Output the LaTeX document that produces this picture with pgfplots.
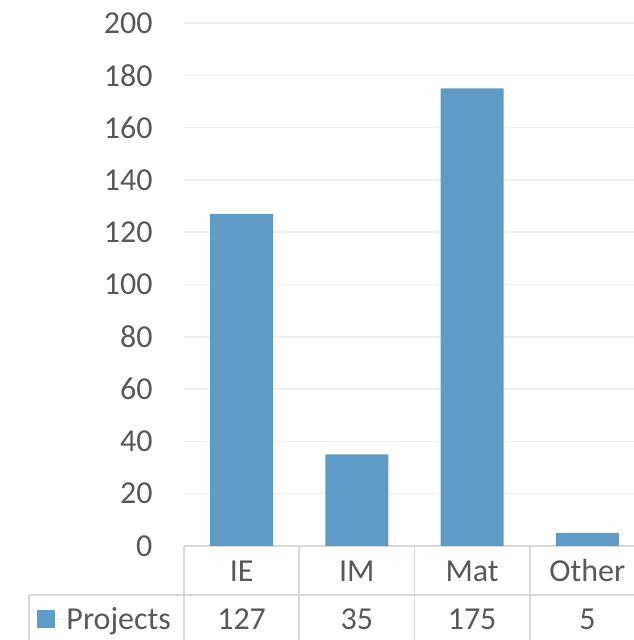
\documentclass[border=0pt]{standalone}
\usepackage{pgfplots}
\pgfplotsset{compat=1.18}
\usepackage{fontspec}
\setmainfont{Carlito}
\definecolor{barblue}{RGB}{96,155,197}
\definecolor{txtgray}{RGB}{89,89,89}
\definecolor{linegray}{RGB}{217,217,217}
\definecolor{gridgray}{RGB}{240,240,240}
\begin{document}
\begin{tikzpicture}[x=1pt,y=1pt]
\begin{axis}[
  at={(184pt,94pt)}, anchor=south west,
  scale only axis, width=461pt, height=523pt,
  xmin=-0.5, xmax=3.5, ymin=0, ymax=200,
  ytick={0,20,...,200},
  xtick={0,1,2,3},
  xticklabels={IE,IM,Mat,Other},
  extra x ticks={0,1,2,3},
  extra x tick labels={127,35,175,5},
  extra x tick style={xticklabel style={yshift=-48pt}, grid=none},
  major tick length=0pt,
  axis y line*=left,
  y axis line style={draw=none},
  axis x line*=bottom,
  x axis line style={-, draw=linegray, line width=1.6pt},
  ymajorgrids, grid style={draw=gridgray, line width=1.5pt},
  yticklabel style={anchor=east, xshift=-28pt},
  xticklabel style={anchor=center, yshift=-25pt},
  tick label style={font=\fontsize{32}{38}\selectfont, text=txtgray},
  /pgf/number format/assume math mode=true,
  clip=false,
  legend style={at={(-0.171,-0.1396)}, anchor=center, draw=none, fill=none,
    font=\fontsize{32}{38}\selectfont, text=txtgray, inner sep=0pt,
    /tikz/every even column/.append style={column sep=0pt}},
  legend image code/.code={\fill[barblue] (0pt,-9pt) rectangle (18pt,9pt); \path (0pt,0pt) -- (27pt,0pt);},
]
\addplot[ybar, bar width=63pt, fill=barblue, draw=none] coordinates {(0,127) (1,35) (2,175) (3,5)};
\addlegendentry{Projects}
\draw[linegray, line width=1.6pt] (axis cs:-0.5,0) -- (axis cs:-0.5,-40);
\draw[linegray, line width=1.6pt] (axis cs:0.5,0) -- (axis cs:0.5,-40);
\draw[linegray, line width=1.6pt] (axis cs:1.5,0) -- (axis cs:1.5,-40);
\draw[linegray, line width=1.6pt] (axis cs:2.5,0) -- (axis cs:2.5,-40);
\draw[linegray, line width=1.6pt] (axis cs:-1.845,-18.74) -- (axis cs:3.5,-18.74);
\draw[linegray, line width=1.6pt] (axis cs:-1.845,-18.74) -- (axis cs:-1.845,-40);
\end{axis}
\pgfresetboundingbox
\path[use as bounding box] (0,0) rectangle (633,640);
\end{tikzpicture}
\end{document}
